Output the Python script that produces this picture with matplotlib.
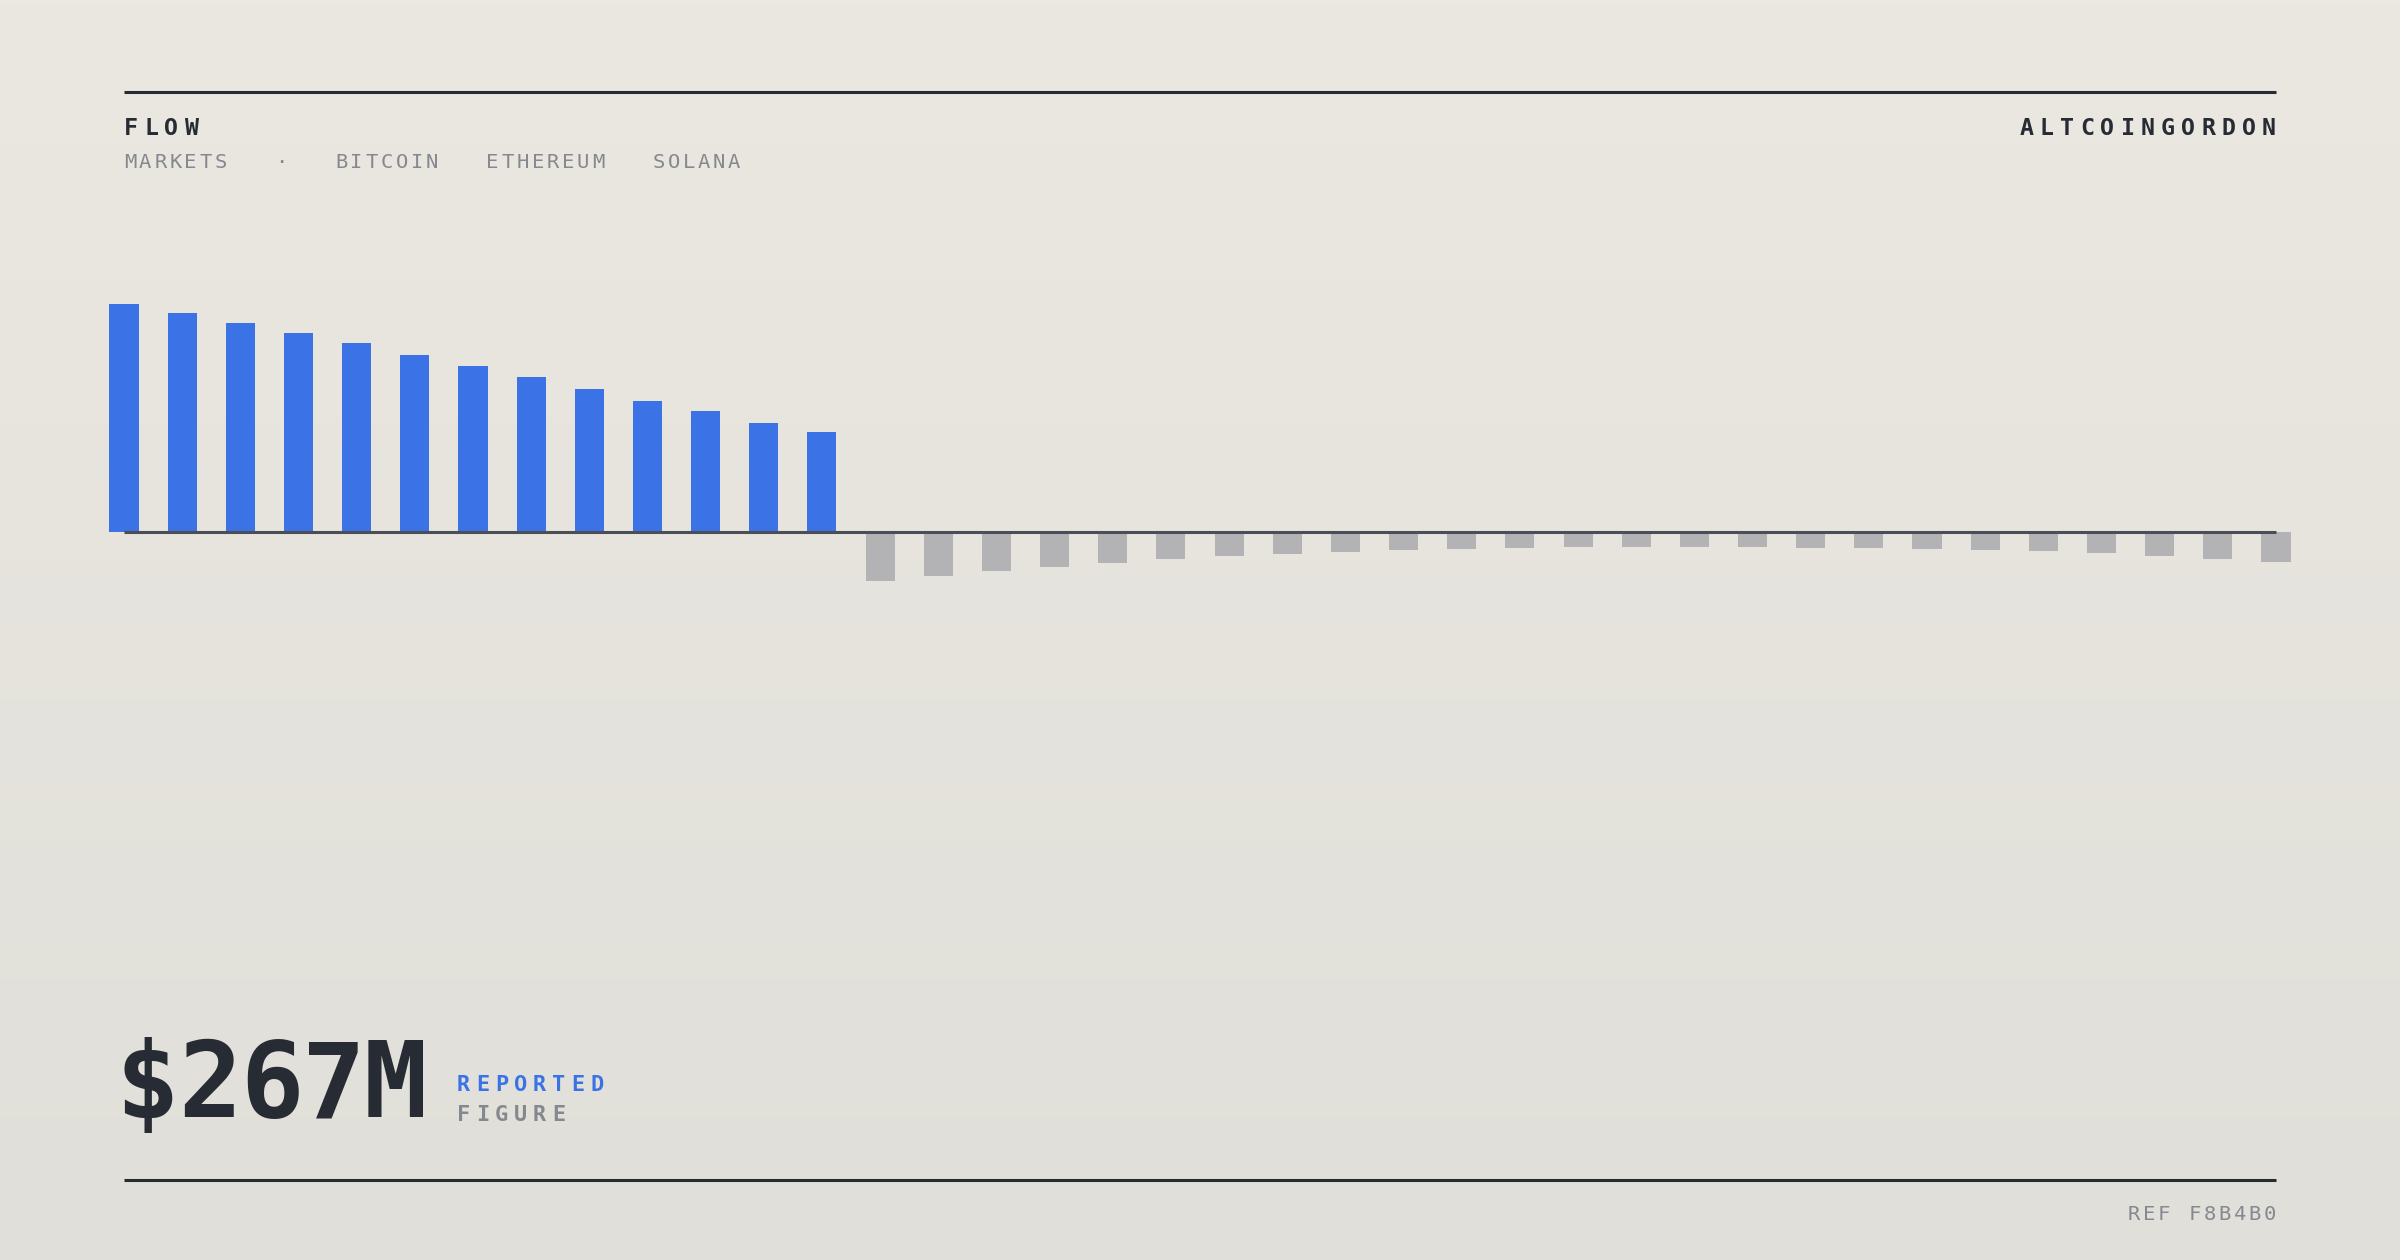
import numpy as np
import matplotlib
matplotlib.use("Agg")
import matplotlib.pyplot as plt

W, H, DPI = 2400, 1260, 100

# bar values (relative flow, first bar = 100)
inflows = [100, 96, 91.7, 87.3, 82.6, 77.5, 72.7, 67.7, 62.6, 57.5, 52.8, 47.9, 43.6]
outflows = [-21.5, -19.1, -17.2, -15.2, -13.4, -12.0, -10.6, -9.5, -8.6, -7.8, -7.3, -6.9,
            -6.7, -6.4, -6.4, -6.4, -6.9, -7.0, -7.3, -7.8, -8.5, -9.3, -10.4, -11.7, -13.3]
values = inflows + outflows

TITLE = "FLOW"
SUBTITLE = "MARKETS   ·   BITCOIN   ETHEREUM   SOLANA"
BRAND = "ALTCOINGORDON"
BIG = "$267M"
TAG1, TAG2 = "REPORTED", "FIGURE"
REF = "REF F8B4B0"

BLUE = "#3b73e6"
GREY_BAR = "#b3b3b6"
INK = "#272b34"
MUTED = "#868890"
ZERO = "#4b4e56"

MONO = "DejaVu Sans Mono"
LEFT, RIGHT = 124, 2276          # content edges in pixels

fig = plt.figure(figsize=(W / DPI, H / DPI), dpi=DPI)

# background gradient
bg = fig.add_axes([0, 0, 1, 1], zorder=0)
top = np.array([235, 232, 225]) / 255
bot = np.array([224, 223, 217]) / 255
t = np.linspace(0, 1, 256)[:, None]
grad = (top * (1 - t) + bot * t)[:, None, :].repeat(2, axis=1)
bg.imshow(grad, aspect="auto", extent=[0, 1, 0, 1])
bg.axis("off")

# bars
ax = fig.add_axes([0, 0, 1, 1], zorder=1)
ax.patch.set_alpha(0)
n = len(values)
x = np.arange(n)
pitch = (RIGHT - LEFT) / (n - 1)
colors = [BLUE if v > 0 else GREY_BAR for v in values]
ax.bar(x, values, width=0.5, color=colors, zorder=2)
ax.hlines(0, 0, n - 1, color=ZERO, lw=2.2, zorder=3)
ax.set_xlim(-LEFT / pitch, n - 1 + (W - RIGHT) / pitch)
px_per_unit = 2.283
zero_y = 532
ax.set_ylim(-(H - zero_y) / px_per_unit, zero_y / px_per_unit)
ax.axis("off")

# overlay in pixel coordinates (y from top)
ov = fig.add_axes([0, 0, 1, 1], zorder=2)
ov.patch.set_alpha(0)
ov.set_xlim(0, W); ov.set_ylim(H, 0)
ov.axis("off")

ov.plot([LEFT, RIGHT], [92, 92], color=INK, lw=2.2, solid_capstyle="butt")
ov.plot([LEFT, RIGHT], [1180, 1180], color=INK, lw=2.2, solid_capstyle="butt")


def tracked(x0, y, s, step, px, color, weight="normal", ha="left"):
    cw = 0.602 * px
    if ha == "right":
        x0 = x0 - (len(s) - 1) * step - cw
    for i, ch in enumerate(s):
        if ch == " ":
            continue
        ov.text(x0 + i * step, y, ch, fontsize=px * 0.72, family=MONO,
                fontweight=weight, color=color, ha="left", va="baseline")


tracked(LEFT, 135, TITLE, 20.2, 23.3, INK, "bold")
tracked(RIGHT, 135, BRAND, 20.2, 23.3, INK, "bold", ha="right")
tracked(LEFT, 168, SUBTITLE, 15.1, 20.5, MUTED)
tracked(457, 1091, TAG1, 19.0, 21.9, BLUE, "bold")
tracked(457, 1121, TAG2, 19.0, 21.9, MUTED, "bold")
tracked(RIGHT, 1220, REF, 15.1, 20.5, MUTED, ha="right")

# big headline figure
tracked(116, 1117, BIG, 62.0, 105.5, INK, "bold")

fig.savefig("out.png", dpi=DPI)
